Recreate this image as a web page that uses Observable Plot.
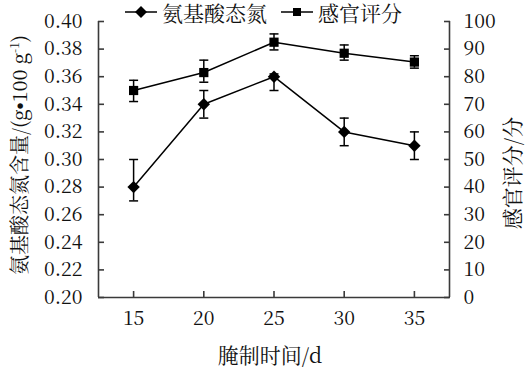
<!DOCTYPE html>
<html><head><meta charset="utf-8">
<script src="https://cdn.jsdelivr.net/npm/d3@7"></script>
<script src="https://cdn.jsdelivr.net/npm/@observablehq/plot@0.6"></script>
<style>
body{margin:0;background:#fff}
#wrap{position:relative;width:527px;height:370px;color:#111}
#wrap, #wrap svg, #wrap svg text, .ov{font-family:"Noto Serif CJK SC","Liberation Serif","Times New Roman",serif !important}
#wrap svg text{font-size:19.5px !important}
.ov{position:absolute;white-space:nowrap;line-height:1.2}
.rot{transform:translate(-50%,-50%) rotate(-90deg)}
.ctr{transform:translate(-50%,-50%)}
sup{font-size:12px;vertical-align:8px;line-height:0}
.bul{font-family:"Liberation Sans",sans-serif !important}
</style></head><body><div id="wrap"></div>
<script>
// data
const days = [15, 20, 25, 30, 35];
const aminoN = [0.28, 0.34, 0.36, 0.32, 0.31];
const aminoLo = [0.27, 0.33, 0.35, 0.31, 0.30];
const aminoHi = [0.30, 0.35, 0.362, 0.33, 0.32];
const sensory = [75, 81.5, 92.5, 88.5, 85.3];
const sensoryLo = [71, 78, 89.7, 86, 83.1];
const sensoryHi = [78.7, 86, 95.5, 91.5, 87.6];
const leftTicks = [0.20, 0.22, 0.24, 0.26, 0.28, 0.30, 0.32, 0.34, 0.36, 0.38, 0.40];
const rightTicks = [0, 10, 20, 30, 40, 50, 60, 70, 80, 90, 100];
const xTicks = [15, 20, 25, 30, 35];
const xDomain = [12.5, 37.5];
const yDomain = [0.20, 0.40];
const rightDomain = [0, 100];

// map right-axis (sensory) values onto left scale
const s2y = v => yDomain[0] + (v - rightDomain[0]) / (rightDomain[1] - rightDomain[0]) * (yDomain[1] - yDomain[0]);
const y2s = y => Math.round(rightDomain[0] + (y - yDomain[0]) / (yDomain[1] - yDomain[0]) * (rightDomain[1] - rightDomain[0]));

const amino = days.map((d, i) => ({day: d, v: aminoN[i], lo: aminoLo[i], hi: aminoHi[i]}));
const sens = days.map((d, i) => ({day: d, v: s2y(sensory[i]), lo: s2y(sensoryLo[i]), hi: s2y(sensoryHi[i])}));

const cap = {draw(ctx) { ctx.moveTo(-4.5, 0); ctx.lineTo(4.5, 0); }};
const axisColor = "#3a3a3a";
const FS = 19.5;

const chart = Plot.plot({
  width: 527, height: 370,
  marginLeft: 98, marginRight: 78, marginTop: 21, marginBottom: 73,
  style: {fontSize: FS + "px", color: "#111", background: "white", overflow: "visible"},
  x: {domain: xDomain},
  y: {domain: yDomain},
  marks: [
    Plot.ruleX([xDomain[0]], {stroke: axisColor, strokeWidth: 1.6}),
    Plot.ruleX([xDomain[1]], {stroke: axisColor, strokeWidth: 1.6}),
    Plot.ruleY([yDomain[0]], {stroke: axisColor, strokeWidth: 1.6}),
    // left axis
    Plot.axisY({ticks: leftTicks, tickSize: 6, dx: 6, fill: "none", stroke: axisColor, strokeWidth: 1.6, label: null}),
    Plot.axisY({ticks: leftTicks, tickSize: 0, tickPadding: 16, tickFormat: d3.format(".2f"), fontSize: FS, label: null}),
    // right axis
    Plot.axisY({anchor: "right", ticks: rightTicks.map(s2y), tickSize: 6, dx: -6, fill: "none", stroke: axisColor, strokeWidth: 1.6, label: null}),
    Plot.axisY({anchor: "right", ticks: rightTicks.map(s2y), tickSize: 0, tickPadding: 14, tickFormat: y2s, fontSize: FS, label: null}),
    // bottom axis
    Plot.axisX({ticks: xTicks, tickSize: 6, dy: -6, fill: "none", stroke: axisColor, strokeWidth: 1.6, label: null}),
    Plot.axisX({ticks: xTicks, tickSize: 0, tickPadding: 14, fontSize: FS, label: null}),
    // error bars
    Plot.ruleX(amino, {x: "day", y1: "lo", y2: "hi", stroke: "black", strokeWidth: 1.5}),
    Plot.dot(amino, {x: "day", y: "lo", symbol: cap, stroke: "black", strokeWidth: 1.5, fill: "none"}),
    Plot.dot(amino, {x: "day", y: "hi", symbol: cap, stroke: "black", strokeWidth: 1.5, fill: "none"}),
    Plot.ruleX(sens, {x: "day", y1: "lo", y2: "hi", stroke: "black", strokeWidth: 1.5}),
    Plot.dot(sens, {x: "day", y: "lo", symbol: cap, stroke: "black", strokeWidth: 1.5, fill: "none"}),
    Plot.dot(sens, {x: "day", y: "hi", symbol: cap, stroke: "black", strokeWidth: 1.5, fill: "none"}),
    // lines
    Plot.line(amino, {x: "day", y: "v", stroke: "black", strokeWidth: 1.5}),
    Plot.line(sens, {x: "day", y: "v", stroke: "black", strokeWidth: 1.5}),
    // markers
    Plot.dot(amino, {x: "day", y: "v", symbol: "diamond2", r: 5.6, fill: "black", stroke: "none"}),
    Plot.dot(sens, {x: "day", y: "v", symbol: "square", r: 5.2, fill: "black", stroke: "none"})
  ]
});

const wrap = document.getElementById("wrap");
chart.style.position = "absolute";
chart.style.left = "0"; chart.style.top = "0";
wrap.appendChild(chart);

function ov(html, cls, left, top, size) {
  const d = document.createElement("div");
  d.className = "ov " + cls;
  d.style.left = left + "px"; d.style.top = top + "px"; d.style.fontSize = size + "px";
  d.innerHTML = html;
  wrap.appendChild(d);
}
const diamondIcon = '<svg width="32" height="14" style="display:block"><line x1="0" y1="7" x2="32" y2="7" stroke="black" stroke-width="1.5"/><path d="M16,1 L22,7 L16,13 L10,7Z" fill="black"/></svg>';
const squareIcon = '<svg width="32" height="14" style="display:block"><line x1="0" y1="7" x2="32" y2="7" stroke="black" stroke-width="1.5"/><rect x="12" y="3" width="8" height="8" fill="black"/></svg>';
ov(diamondIcon, "", 125, 5, 20);
ov("氨基酸态氮", "", 162, 0, 21);
ov(squareIcon, "", 281, 5, 20);
ov("感官评分", "", 318, 0, 21);
ov('氨基酸态氮含量/(g<span class="bul">•</span>100 g<sup>-1</sup>)', "rot", 19, 155, 20);
ov("感官评分/分", "rot", 512, 173, 21);
ov("腌制时间/d", "ctr", 270, 355, 21);
</script>
</body></html>
